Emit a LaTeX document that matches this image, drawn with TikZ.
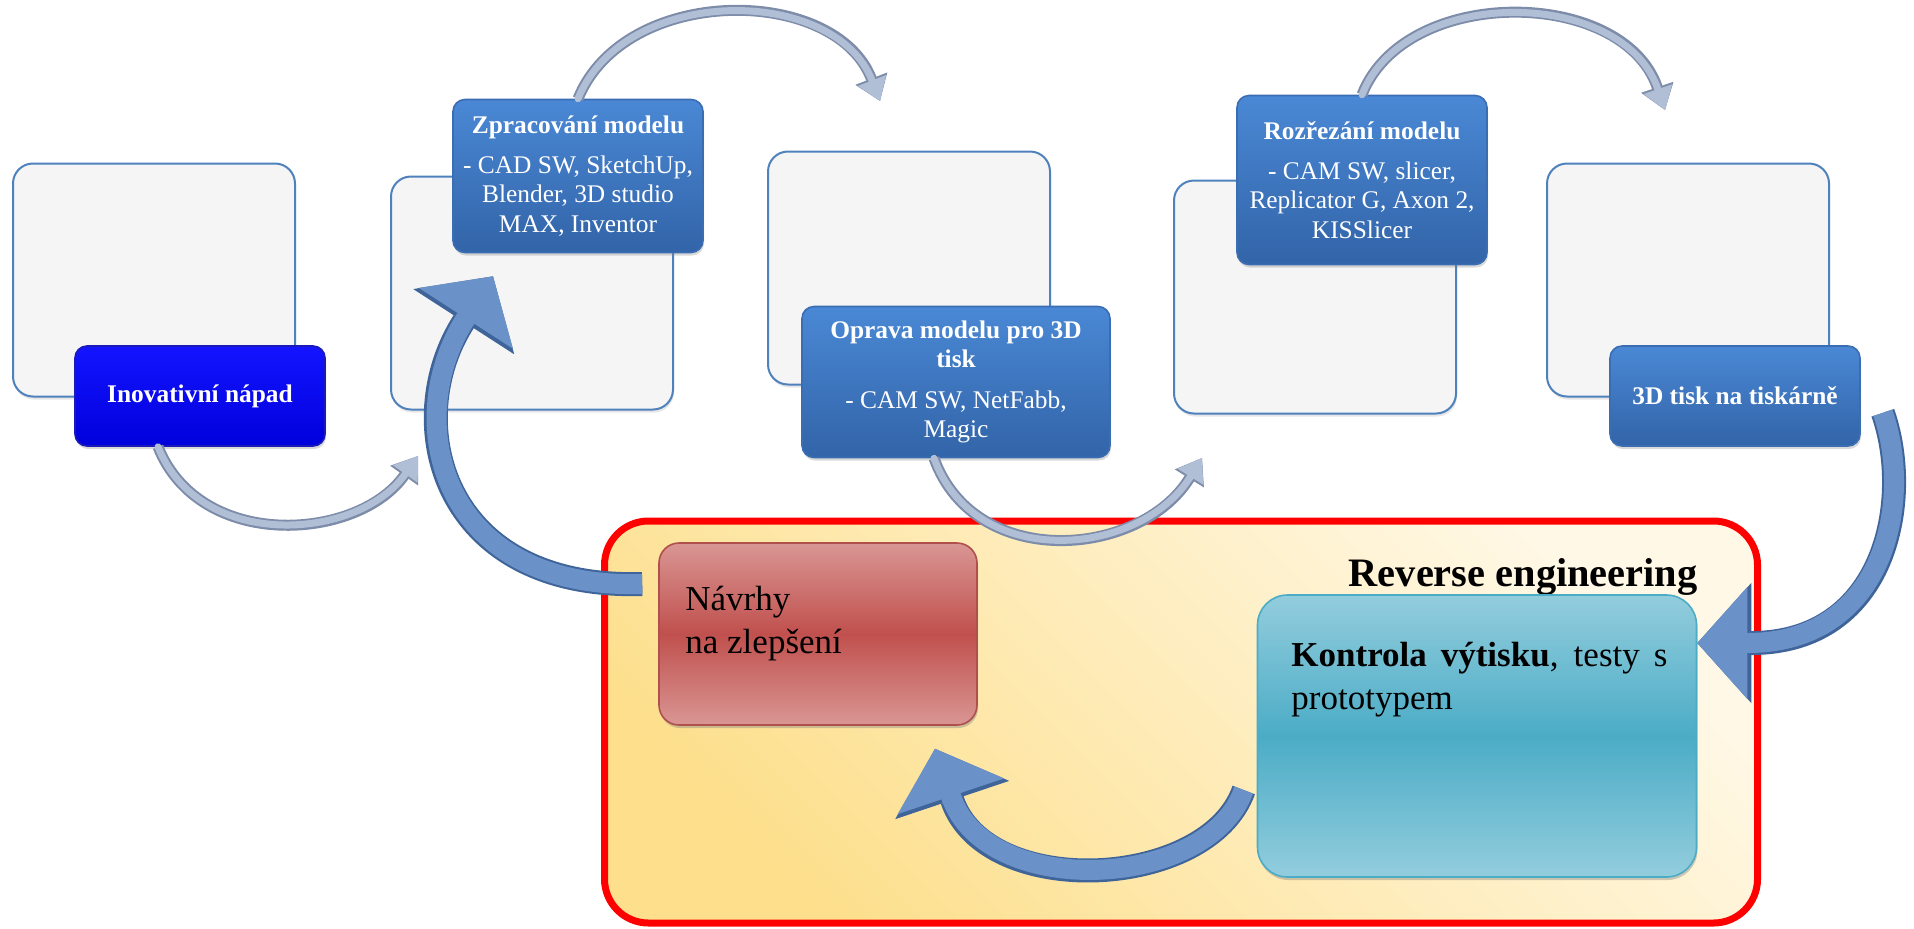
\documentclass[tikz,border=0pt]{standalone}
\usepackage{fontspec}
\setmainfont{Liberation Serif}
\usepackage{tikz}
\usepackage{xcolor}
\usetikzlibrary{arrows.meta}
\usetikzlibrary{shadows}

\definecolor{panelfill}{HTML}{F5F5F5}
\definecolor{panelline}{HTML}{4F81BD}
\definecolor{steptop}{HTML}{4A88D5}
\definecolor{stepbot}{HTML}{3264A8}
\definecolor{stepline}{HTML}{3A6DB2}
\definecolor{ideatop}{HTML}{1414FF}
\definecolor{ideabot}{HTML}{0000DC}
\definecolor{idealine}{HTML}{1A1AB8}
\definecolor{reline}{HTML}{FF0000}
\definecolor{relight}{HTML}{FFF8E6}
\definecolor{redark}{HTML}{FDDF8C}
\definecolor{ideaslight}{HTML}{D99694}
\definecolor{ideasdark}{HTML}{C0504D}
\definecolor{ideasline}{HTML}{B0504C}
\definecolor{testlight}{HTML}{93CDDD}
\definecolor{testdark}{HTML}{4BACC6}
\definecolor{arrowfill}{HTML}{6A92C8}
\definecolor{arrowedge}{HTML}{3F6499}
\definecolor{silverfill}{HTML}{B0BED6}
\definecolor{silveredge}{HTML}{7D8CA9}
\definecolor{silverlight}{HTML}{DCE4F0}

\newcommand{\stepfont}{\fontsize{12.7}{14.6}\selectfont}
\newcommand{\notefont}{\fontsize{17.5}{21.5}\selectfont}
\newcommand{\headfont}{\fontsize{20.2}{24}\selectfont\bfseries}

\tikzset{
  panel/.style={draw=panelline, fill=panelfill, line width=1pt, rounded corners=10pt,
    minimum width=141pt, minimum height=116.5pt,
    drop shadow={opacity=0.2, shadow xshift=0.5pt, shadow yshift=-1.5pt}},
  stepbox/.style={draw=stepline, line width=0.8pt, rounded corners=6pt,
    top color=steptop, bottom color=stepbot, text=white, align=center,
    font=\stepfont, minimum width=125pt, minimum height=50pt, inner sep=2pt,
    drop shadow={opacity=0.3, shadow xshift=0.5pt, shadow yshift=-1.5pt}},
  ideabox/.style={stepbox, draw=idealine, top color=ideatop, bottom color=ideabot},
  revbox/.style={draw=reline, line width=3.5pt, rounded corners=22pt,
    top color=relight, bottom color=redark, shading angle=-45,
    minimum width=576.5pt, minimum height=201pt},
  ideasbox/.style={draw=ideasline, line width=0.8pt, rounded corners=10pt,
    top color=ideaslight, bottom color=ideaslight, middle color=ideasdark,
    minimum width=159pt, minimum height=91pt,
    drop shadow={opacity=0.4, shadow xshift=0.5pt, shadow yshift=-1.5pt}},
  testbox/.style={draw=testdark, line width=0.8pt, rounded corners=15pt,
    top color=testlight, bottom color=testlight, middle color=testdark,
    minimum width=219.5pt, minimum height=141pt,
    drop shadow={opacity=0.4, shadow xshift=0.5pt, shadow yshift=-1.5pt}},
  bodytext/.style={inner sep=0pt, font=\notefont, text=black},
  silverarrow/.style={line width=3.5pt, draw=silverfill, line cap=round,
    -{Triangle[length=11pt, width=15pt, line width=0.5pt]},
    preaction={draw=silveredge, line width=5.5pt,
      -{Triangle[length=12pt, width=17pt, line width=0.5pt]}}},
  bigarrow/.style={line width=10pt, draw=arrowfill,
    -{Triangle[length=25pt, width=56pt, line width=0.5pt]},
    preaction={draw=arrowedge, line width=12pt,
      -{Triangle[length=27pt, width=60pt, line width=0.5pt]}}}
}

\begin{document}
\begin{tikzpicture}[x=0.5pt, y=-0.5pt]
\useasboundingbox (0,0) rectangle (1914,928);

% light panels behind the steps
\node [panel] (bg1) at (154,280) {};
\node [panel] (bg2) at (532,293) {};
\node [panel] (bg3) at (909,268) {};
\node [panel] (bg4) at (1315,297) {};
\node [panel] (bg5) at (1688,280) {};

% steps
\node [ideabox] (idea) at (200,396) {\textbf{Inovativní nápad}};
\node [stepbox, minimum height=76.5pt] (model) at (578,176)
       {\textbf{Zpracování modelu}\\[5.5pt]- CAD SW, SketchUp,\\Blender, 3D studio\\MAX, Inventor};
\node [stepbox, minimum width=154pt, minimum height=75.5pt] (repair) at (956,382)
       {\textbf{Oprava modelu pro 3D}\\\textbf{tisk}\\[5.5pt]- CAM SW, NetFabb,\\Magic};
\node [stepbox, minimum height=84.5pt] (slice) at (1362,180)
       {\textbf{Rozřezání modelu}\\[5.5pt]- CAM SW, slicer,\\Replicator G, Axon 2,\\KISSlicer};
\node [stepbox] (print) at (1735,396) {\textbf{3D tisk na tiskárně}};

% reverse engineering
\node [revbox] (rev) at (1181,722) {};
\node [font=\headfont, anchor=base east, inner sep=0pt] (revtitle) at (1698,586)
       {Reverse engineering};
\node [ideasbox] (ideas) at (818,634) {};
\node [testbox] (test) at (1477,736) {};
\node [bodytext, anchor=base west] (ideastext) at (685,610)
       {\parbox[t]{150pt}{Návrhy\\na zlepšení}};
\node [bodytext, anchor=base west] (testtext) at (1291,666)
       {\parbox[t]{188pt}{\textbf{Kontrola výtisku}, testy s\linebreak prototypem}};

% free arrow ends
\coordinate (t1) at (418,456);
\coordinate (t2) at (880,101);
\coordinate (t3) at (1202,458);
\coordinate (t4) at (1665,110);

\draw [silverarrow] ([xshift=-21pt]idea.south) .. controls +(42,105) and +(-60,85) .. (t1);
\draw [silverarrow] (model.north) .. controls +(47,-115) and +(-45,-116) .. (t2);
\draw [silverarrow] ([xshift=-11pt]repair.south) .. controls +(41,113) and +(-62,100) .. (t3);
\draw [silverarrow] (slice.north) .. controls +(43,-110) and +(-42,-123) .. (t4);

\draw [bigarrow] ([xshift=11pt,yshift=17pt]print.south east)
       .. controls +(30,85) and +(190,0) .. ([yshift=46.5pt]test.east);
\draw [bigarrow] ([xshift=-6.5pt,yshift=-27pt]test.west)
       .. controls +(-35,100) and +(51,152) .. ([xshift=58.5pt,yshift=-11.5pt]ideas.south);
\draw [bigarrow] ([xshift=-8pt,yshift=25pt]ideas.west)
       .. controls +(-203,6) and +(-93,144) .. ([xshift=-42.5pt,yshift=-11.5pt]model.south);
\end{tikzpicture}
\end{document}
